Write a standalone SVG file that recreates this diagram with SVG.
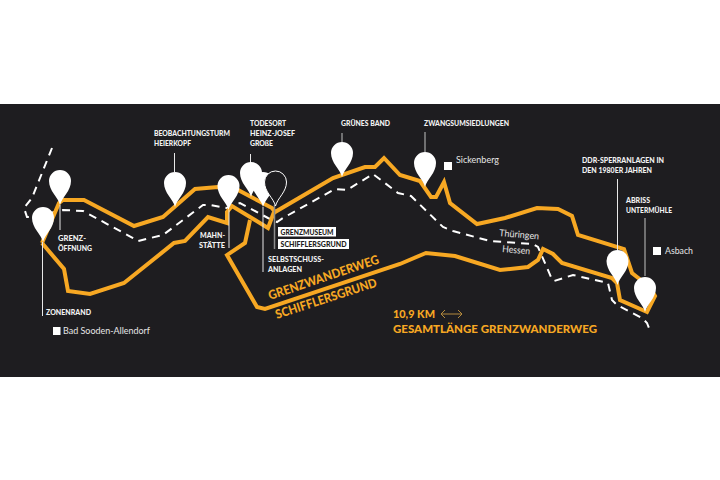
<svg xmlns="http://www.w3.org/2000/svg" width="720" height="480" viewBox="0 0 720 480">
<style>
text{font-family:"Lato","Liberation Sans",sans-serif}
.l{font-size:7.800px;font-weight:900;fill:#f2f2f2}
.p{font-size:9.500px;font-weight:400;fill:#e6e6e6}
.b{font-size:7.800px;font-weight:900;fill:#1e1d20}
.o{font-weight:900;fill:#f7a823}
.route{fill:none;stroke:#f7a823;stroke-width:4;stroke-linejoin:miter}
.border{fill:none;stroke:#fff;stroke-width:2;stroke-dasharray:8 6}
.lead{stroke:#e8e8e8;stroke-width:1}
.grey{stroke:#8c8c8c;stroke-width:1.5}
.pin{fill:#fff}
</style>
<defs>
<path id="pin" d="M0 0C-2-8-11-14-11-24A11 11 0 0 1 11-24C11-14 2-8 0 0Z"/>
</defs>
<rect width="720" height="480" fill="#fff"/>
<rect y="104" width="720" height="273" fill="#1e1d20"/>
<g id="connectors">
<path class="border" d="M52 148L32 198L24 208L27 217L33 217L63 210L83 211L133 238L138 241L163 235L203 205L210 205L227 208L240 203L268 218L277 222L283 218L335 189L347 190L373 174L398 193L411 196L443 227L453 231L490 241L533 244L538 247L551 277L554 281L573 275L608 283L612 300L617 305L642 318L647 323L651 333"/>
<path class="route" d="M42 243L59 203L63 200L84 200L134 226L163 217L195 189L218 187L238 190L272 208L275 212L333 178L365 167L375 167L384 158L400 175L420 181L431 197L436 197L444 182L450 203L477 224L505 218L537 208L558 209L572 216L578 235L624 249L632 273L637 277L650 287L655 296L647 312L620 300L617 283L612 278L562 263L553 254L543 249L538 260L528 267L500 270L455 256L426 253L400 264L265 309L257 307L227 255L245 243L250 220"/>
<path class="route" d="M42 243L64 269L68 291L90 294L124 283L174 243L185 241L208 217L227 223L227 212L232 206L268 228L274 212"/>
<line class="lead" x1="60" y1="205" x2="60" y2="230"/>
<line class="lead" x1="42.500" y1="242" x2="42.500" y2="316"/>
<line class="lead" x1="174.500" y1="153" x2="174.500" y2="172"/>
<line class="lead" x1="229" y1="210" x2="229" y2="248"/>
<line class="lead" x1="250.500" y1="154" x2="250.500" y2="163"/>
<line class="lead" x1="263" y1="207" x2="263" y2="272"/>
<line class="grey" x1="274.500" y1="205" x2="274.500" y2="249"/>
<line class="grey" x1="342" y1="133" x2="342" y2="142"/>
<line class="grey" x1="425" y1="132" x2="425" y2="152"/>
<line class="lead" x1="617.500" y1="179" x2="617.500" y2="250"/>
<line class="grey" x1="645" y1="218" x2="645" y2="276"/>
</g>
<g id="node-zonenrand"><use href="#pin" class="pin" x="43" y="242"/><text class="l" x="46" y="315" textLength="45" lengthAdjust="spacingAndGlyphs">ZONENRAND</text></g>
<g id="node-grenzoeffnung"><use href="#pin" class="pin" x="60" y="205"/><text class="l" x="58" y="241" textLength="28" lengthAdjust="spacingAndGlyphs">GRENZ-</text><text class="l" x="58" y="251" textLength="34" lengthAdjust="spacingAndGlyphs">ÖFFNUNG</text></g>
<g id="node-beobachtungsturm"><use href="#pin" class="pin" x="175" y="207"/><text class="l" x="154" y="136" textLength="76" lengthAdjust="spacingAndGlyphs">BEOBACHTUNGSTURM</text><text class="l" x="154" y="146" textLength="37" lengthAdjust="spacingAndGlyphs">HEIERKOPF</text></g>
<g id="node-mahnstaette"><use href="#pin" class="pin" x="228.500" y="210"/><text class="l" x="200" y="238" textLength="25" lengthAdjust="spacingAndGlyphs">MAHN-</text><text class="l" x="199" y="248" textLength="26" lengthAdjust="spacingAndGlyphs">STÄTTE</text></g>
<g id="node-selbstschuss"><use href="#pin" class="pin" x="263" y="207"/><text class="l" x="268" y="262" textLength="56" lengthAdjust="spacingAndGlyphs">SELBSTSCHUSS-</text><text class="l" x="268" y="272" textLength="34" lengthAdjust="spacingAndGlyphs">ANLAGEN</text></g>
<g id="node-todesort"><use href="#pin" class="pin" x="251" y="197"/><text class="l" x="250" y="126" textLength="36" lengthAdjust="spacingAndGlyphs">TODESORT</text><text class="l" x="250" y="136" textLength="45" lengthAdjust="spacingAndGlyphs">HEINZ-JOSEF</text><text class="l" x="250" y="146" textLength="23" lengthAdjust="spacingAndGlyphs">GROßE</text></g>
<g id="node-grenzmuseum"><use href="#pin" x="275.500" y="206" fill="#1e1d20" stroke="#fff" stroke-width="1"/>
<rect x="278" y="227" width="58" height="9.500" fill="#fff"/><text class="b" x="280.500" y="234.500" textLength="53" lengthAdjust="spacingAndGlyphs">GRENZMUSEUM</text>
<rect x="278" y="239" width="71" height="10" fill="#fff"/><text class="b" x="280.500" y="246.700" textLength="66" lengthAdjust="spacingAndGlyphs">SCHIFFLERSGRUND</text></g>
<g id="node-gruenes-band"><use href="#pin" class="pin" x="342" y="177"/><text class="l" x="341" y="126" textLength="49" lengthAdjust="spacingAndGlyphs">GRÜNES BAND</text></g>
<g id="node-zwangsumsiedlungen"><use href="#pin" class="pin" x="425" y="187"/><text class="l" x="424" y="126" textLength="85" lengthAdjust="spacingAndGlyphs">ZWANGSUMSIEDLUNGEN</text></g>
<g id="node-ddr"><use href="#pin" class="pin" x="617.500" y="285"/><text class="l" x="582" y="163" textLength="82" lengthAdjust="spacingAndGlyphs">DDR-SPERRANLAGEN IN</text><text class="l" x="582" y="173" textLength="70" lengthAdjust="spacingAndGlyphs">DEN 1980ER JAHREN</text></g>
<g id="node-abriss"><use href="#pin" class="pin" x="645" y="312"/><text class="l" x="626" y="203" textLength="24" lengthAdjust="spacingAndGlyphs">ABRISS</text><text class="l" x="626" y="213" textLength="46" lengthAdjust="spacingAndGlyphs">UNTERMÜHLE</text></g>
<g id="place-bad-sooden"><rect x="53" y="327" width="7.500" height="8" fill="#fff"/><text class="p" x="63" y="334" textLength="87" lengthAdjust="spacingAndGlyphs">Bad Sooden-Allendorf</text></g>
<g id="place-sickenberg"><rect x="444" y="162" width="8" height="8" fill="#fff"/><text class="p" x="456" y="163" textLength="43" lengthAdjust="spacingAndGlyphs">Sickenberg</text></g>
<g id="place-asbach"><rect x="653" y="247" width="8" height="8" fill="#fff"/><text class="p" x="665" y="254" textLength="28" lengthAdjust="spacingAndGlyphs">Asbach</text></g>
<text class="p" transform="translate(499 236) rotate(5)" textLength="40" lengthAdjust="spacingAndGlyphs">Thüringen</text>
<text class="p" transform="translate(502 252) rotate(5)" textLength="28" lengthAdjust="spacingAndGlyphs">Hessen</text>
<g id="route-title">
<text class="o" font-size="12.500" transform="translate(270 300) rotate(-18.600)" textLength="116" lengthAdjust="spacingAndGlyphs">GRENZWANDERWEG</text>
<text class="o" font-size="12.500" transform="translate(277 319) rotate(-18)" textLength="106" lengthAdjust="spacingAndGlyphs">SCHIFFLERSGRUND</text>
</g>
<g id="length">
<text class="o" font-size="11.500" x="393" y="318" textLength="42" lengthAdjust="spacingAndGlyphs">10,9 KM</text>
<path d="M445 310L441 314L445 318M441 314H462M458 310L462 314L458 318" fill="none" stroke="#b48a3c" stroke-width="1"/>
<text class="o" font-size="11.500" x="393" y="333" textLength="204" lengthAdjust="spacingAndGlyphs">GESAMTLÄNGE GRENZWANDERWEG</text>
</g>
</svg>
